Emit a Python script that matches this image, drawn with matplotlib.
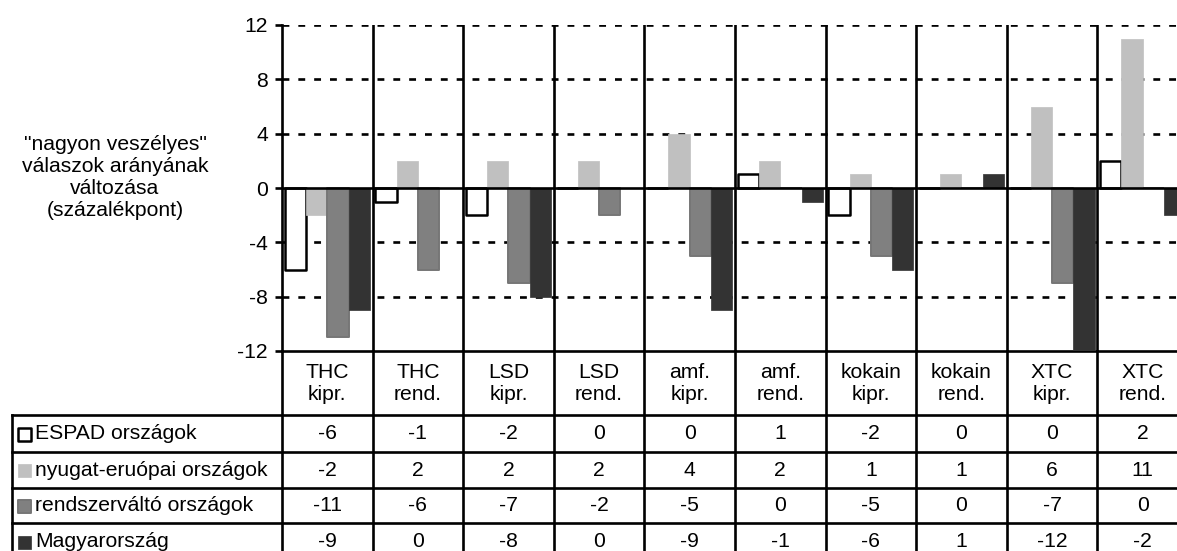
import matplotlib

matplotlib.use("Agg")
import matplotlib.pyplot as plt
import numpy as np

plt.rcParams["font.family"] = ["Liberation Sans", "DejaVu Sans"]
plt.rcParams["axes.unicode_minus"] = False

# drugs x (lifetime prevalence / regular use)
categories = ["THC\nkipr.", "THC\nrend.", "LSD\nkipr.", "LSD\nrend.", "amf.\nkipr.",
              "amf.\nrend.", "kokain\nkipr.", "kokain\nrend.", "XTC\nkipr.", "XTC\nrend."]
series_names = ["ESPAD országok", "nyugat-eruópai országok",
                "rendszerváltó országok", "Magyarország"]
espad = [-6, -1, -2, 0, 0, 1, -2, 0, 0, 2]
nyugat = [-2, 2, 2, 2, 4, 2, 1, 1, 6, 11]
rendszervalto = [-11, -6, -7, -2, -5, 0, -5, 0, -7, 0]
magyar = [-9, 0, -8, 0, -9, -1, -6, 1, -12, -2]
yticks = [-12, -8, -4, 0, 4, 8, 12]

series = [espad, nyugat, rendszervalto, magyar]
faces = ["white", "#c0c0c0", "#808080", "#333333"]
edges = ["black", "#c0c0c0", "#767676", "#333333"]
edge_w = [1.8, 0.5, 1.4, 0.5]

W, H = 1177, 551
COL = 90.6           # px per category column
X0, TOP, BOT = 282, 25, 351
FS = 15.2
LW = 1.9


def px_axes(fig, x0, y0, x1, y1):
    return fig.add_axes([x0 / W, 1 - y1 / H, (x1 - x0) / W, (y1 - y0) / H])


fig = plt.figure(figsize=(W / 100, H / 100), dpi=100)
ax = px_axes(fig, X0, TOP, X0 + 10 * COL, BOT)
n = len(categories)
x = np.arange(n) + 0.5
bw = 0.234
for i, vals in enumerate(series):
    ax.bar(x + (i - 1.5) * bw, vals, width=bw, color=faces[i], edgecolor=edges[i],
           linewidth=edge_w[i], joinstyle="round", zorder=3)

ax.set_xlim(0, n)
ax.set_ylim(-12, 12)
for v in [4, 8, 12, -4, -8]:
    ax.axhline(v, color="black", lw=LW, ls=(0, (2.6, 3.4)), zorder=1)
ax.axhline(0, color="black", lw=LW, zorder=4)
for k in range(1, n + 1):
    ax.axvline(k, color="black", lw=LW, zorder=5)
for s in ["top", "right"]:
    ax.spines[s].set_visible(False)
ax.spines["left"].set_linewidth(LW)
ax.spines["bottom"].set_linewidth(LW)
ax.spines["left"].set_zorder(6)
ax.set_xticks([])
ax.set_yticks(yticks)
ax.tick_params(axis="y", length=5, width=LW, pad=5, labelsize=FS)

fig.text(115 / W, 1 - 177 / H,
         '"nagyon veszélyes"\nválaszok arányának\nváltozása\n(százalékpont)',
         ha="center", va="center", fontsize=FS, linespacing=1.2)

# data table under the bars, x in category units, y in pixels
tx = px_axes(fig, 12, BOT, X0 + 10 * COL, 560)
left = -(X0 - 12) / COL
tx.set_xlim(left, n)
tx.set_ylim(560, BOT)
tx.axis("off")
rows = [415, 452, 488, 523, 560]
for k in range(0, n + 1):
    tx.plot([k, k], [BOT, 560], color="black", lw=LW, clip_on=False)
tx.plot([left, left], [rows[0], 560], color="black", lw=LW, clip_on=False)
for r in rows[:-1]:
    tx.plot([left, n], [r, r], color="black", lw=LW, clip_on=False)
for j, lab in enumerate(categories):
    tx.text(j + 0.5, (BOT + rows[0]) / 2, lab, ha="center", va="center",
            fontsize=FS, linespacing=1.2)
sq = 13 / COL
for i, vals in enumerate(series):
    yc = (rows[i] + rows[i + 1]) / 2
    for j, v in enumerate(vals):
        tx.text(j + 0.5, yc, f"{v}", ha="center", va="center", fontsize=FS)
    tx.add_patch(plt.Rectangle((left + 6 / COL, yc - 6), sq, 13, facecolor=faces[i],
                               edgecolor=edges[i], lw=edge_w[i], joinstyle="round"))
    tx.text(left + 23 / COL, yc, series_names[i], ha="left", va="center", fontsize=FS)

fig.savefig("out.png", dpi=100, facecolor="white")
